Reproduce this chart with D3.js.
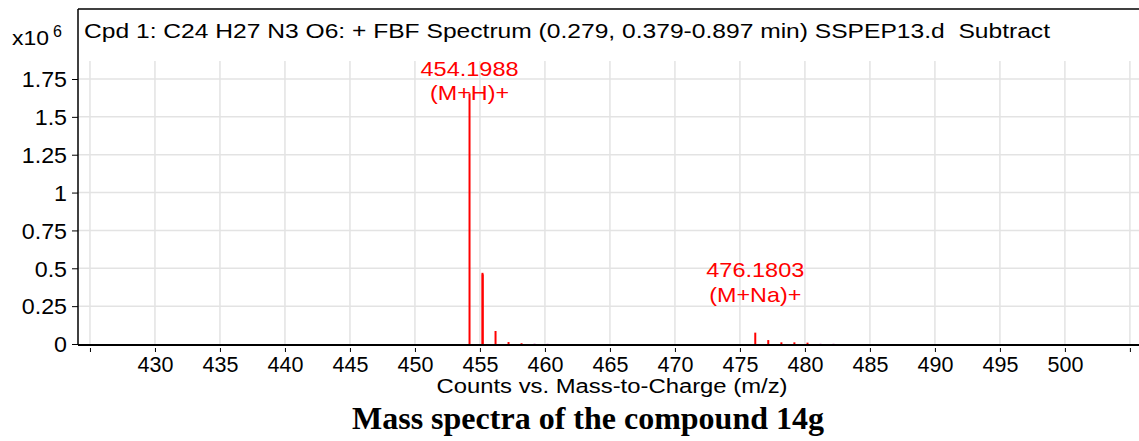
<!DOCTYPE html>
<html><head><meta charset="utf-8">
<script src="https://cdn.jsdelivr.net/npm/d3@7"></script>
<style>body{margin:0;background:#fff}svg{display:block}</style>
</head><body><svg id="c" width="1139" height="441"></svg>
<script>
const mzMain = [454.1988, 455.196, 455.212, 456.2, 457.2, 458.2, 476.1803, 477.18, 478.19, 479.19, 480.2];
const intMain = [1.655, 0.47, 0.46, 0.086, 0.013, 0.005, 0.075, 0.026, 0.011, 0.011, 0.009];
const mzMinor = [459.2, 460.2, 481.2, 482.2];
const intMinor = [0.004, 0.003, 0.003, 0.003];
const xTicks = [425, 430, 435, 440, 445, 450, 455, 460, 465, 470, 475, 480, 485, 490, 495, 500, 505];
const xLabels = [430, 435, 440, 445, 450, 455, 460, 465, 470, 475, 480, 485, 490, 495, 500];
const yTicks = [0, 0.25, 0.5, 0.75, 1, 1.25, 1.5, 1.75];
const annotations = [
  {mz: 454.1988, lines: ["454.1988", "(M+H)+"], widths: [98, 79], at: 1.77},
  {mz: 476.1803, lines: ["476.1803", "(M+Na)+"], widths: [98, 92], at: 0.442}
];

const svg = d3.select("#c");
const L = 78, R = 1139, T = 9, B = 344;
const x = d3.scaleLinear().domain([424.08, 505.7]).range([L, R]);
const y = d3.scaleLinear().domain([0, 1.75]).range([B, 79]);
const font = "'Liberation Sans', Arial, sans-serif";

// grid
svg.append("g").selectAll("line").data(xTicks).join("line")
  .attr("x1", d => x(d)).attr("x2", d => x(d)).attr("y1", 61).attr("y2", B)
  .attr("stroke", "#e3e3e3").attr("stroke-width", 1.5);
svg.append("g").selectAll("line").data(yTicks.filter(d => d > 0)).join("line")
  .attr("x1", L).attr("x2", R).attr("y1", d => y(d)).attr("y2", d => y(d))
  .attr("stroke", "#e3e3e3").attr("stroke-width", 1.5);

// frame top
svg.append("line").attr("x1", L).attr("x2", R).attr("y1", T).attr("y2", T).attr("stroke", "#000").attr("stroke-width", 1.5);

// peaks
svg.append("g").selectAll("line").data(mzMinor.map((m, i) => [m, intMinor[i]])).join("line")
  .attr("x1", d => x(d[0])).attr("x2", d => x(d[0])).attr("y1", B).attr("y2", d => y(d[1]))
  .attr("stroke", "#e8a8e0").attr("stroke-width", 2);
svg.append("g").selectAll("line").data(mzMain.map((m, i) => [m, intMain[i]])).join("line")
  .attr("x1", d => x(d[0])).attr("x2", d => x(d[0])).attr("y1", B).attr("y2", d => y(d[1]))
  .attr("stroke", "#ff0000").attr("stroke-width", 2);

// y axis
const ya = svg.append("g").attr("transform", `translate(${L},0)`)
  .call(d3.axisLeft(y).tickValues(yTicks).tickSize(6).tickPadding(5).tickFormat(d => d3.format("")(d)));
ya.select(".domain").attr("d", `M0,${T}V${B + 1}`).attr("stroke-width", 1.5);
ya.selectAll("text").attr("font-family", font).attr("font-size", 21.5).attr("fill", "#000").attr("dy", "0.36em")
  .each(function() { const w = this.getComputedTextLength(); this.setAttribute("textLength", w * 1.08); this.setAttribute("lengthAdjust", "spacingAndGlyphs"); });

// x axis
const xa = svg.append("g").attr("transform", `translate(0,${B + 1})`)
  .call(d3.axisBottom(x).tickValues(xTicks).tickSize(5).tickPadding(7)
    .tickFormat(d => xLabels.includes(d) ? d : ""));
xa.select(".domain").attr("d", `M${L},0H${R}`).attr("stroke-width", 2);
xa.selectAll(".tick line").attr("transform", "translate(0,3)").attr("y2", 4);
xa.selectAll("text").attr("font-family", font).attr("font-size", 21.5).attr("fill", "#000");

// annotations
annotations.forEach(a => {
  const t = svg.append("text").attr("x", x(a.mz)).attr("y", y(a.at))
    .attr("text-anchor", "middle").attr("font-family", font).attr("font-size", 21).attr("fill", "#ff0000");
  a.lines.forEach((ln, i) => t.append("tspan").attr("x", x(a.mz)).attr("dy", i ? 24.5 : 0)
    .attr("textLength", a.widths[i]).attr("lengthAdjust", "spacingAndGlyphs").text(ln));
});

// header
svg.append("text").attr("x", 84).attr("y", 38).attr("font-family", font).attr("font-size", 20)
  .attr("textLength", 966).attr("lengthAdjust", "spacingAndGlyphs").style("white-space", "pre")
  .text("Cpd 1: C24 H27 N3 O6: + FBF Spectrum (0.279, 0.379-0.897 min) SSPEP13.d  Subtract");
svg.append("text").attr("x", 12).attr("y", 45).attr("font-family", font).attr("font-size", 20)
  .attr("textLength", 37).attr("lengthAdjust", "spacingAndGlyphs").text("x10");
svg.append("text").attr("x", 53).attr("y", 37).attr("font-family", font).attr("font-size", 16).text("6");

// axis title
svg.append("text").attr("x", 612).attr("y", 393).attr("text-anchor", "middle").attr("font-family", font).attr("font-size", 19.5)
  .attr("textLength", 351).attr("lengthAdjust", "spacingAndGlyphs")
  .text("Counts vs. Mass-to-Charge (m/z)");
// caption
svg.append("text").attr("x", 588).attr("y", 429).attr("text-anchor", "middle")
  .attr("font-family", "'Liberation Serif', 'Times New Roman', serif").attr("font-weight", "bold").attr("font-size", 32)
  .text("Mass spectra of the compound 14g");
</script></body></html>
